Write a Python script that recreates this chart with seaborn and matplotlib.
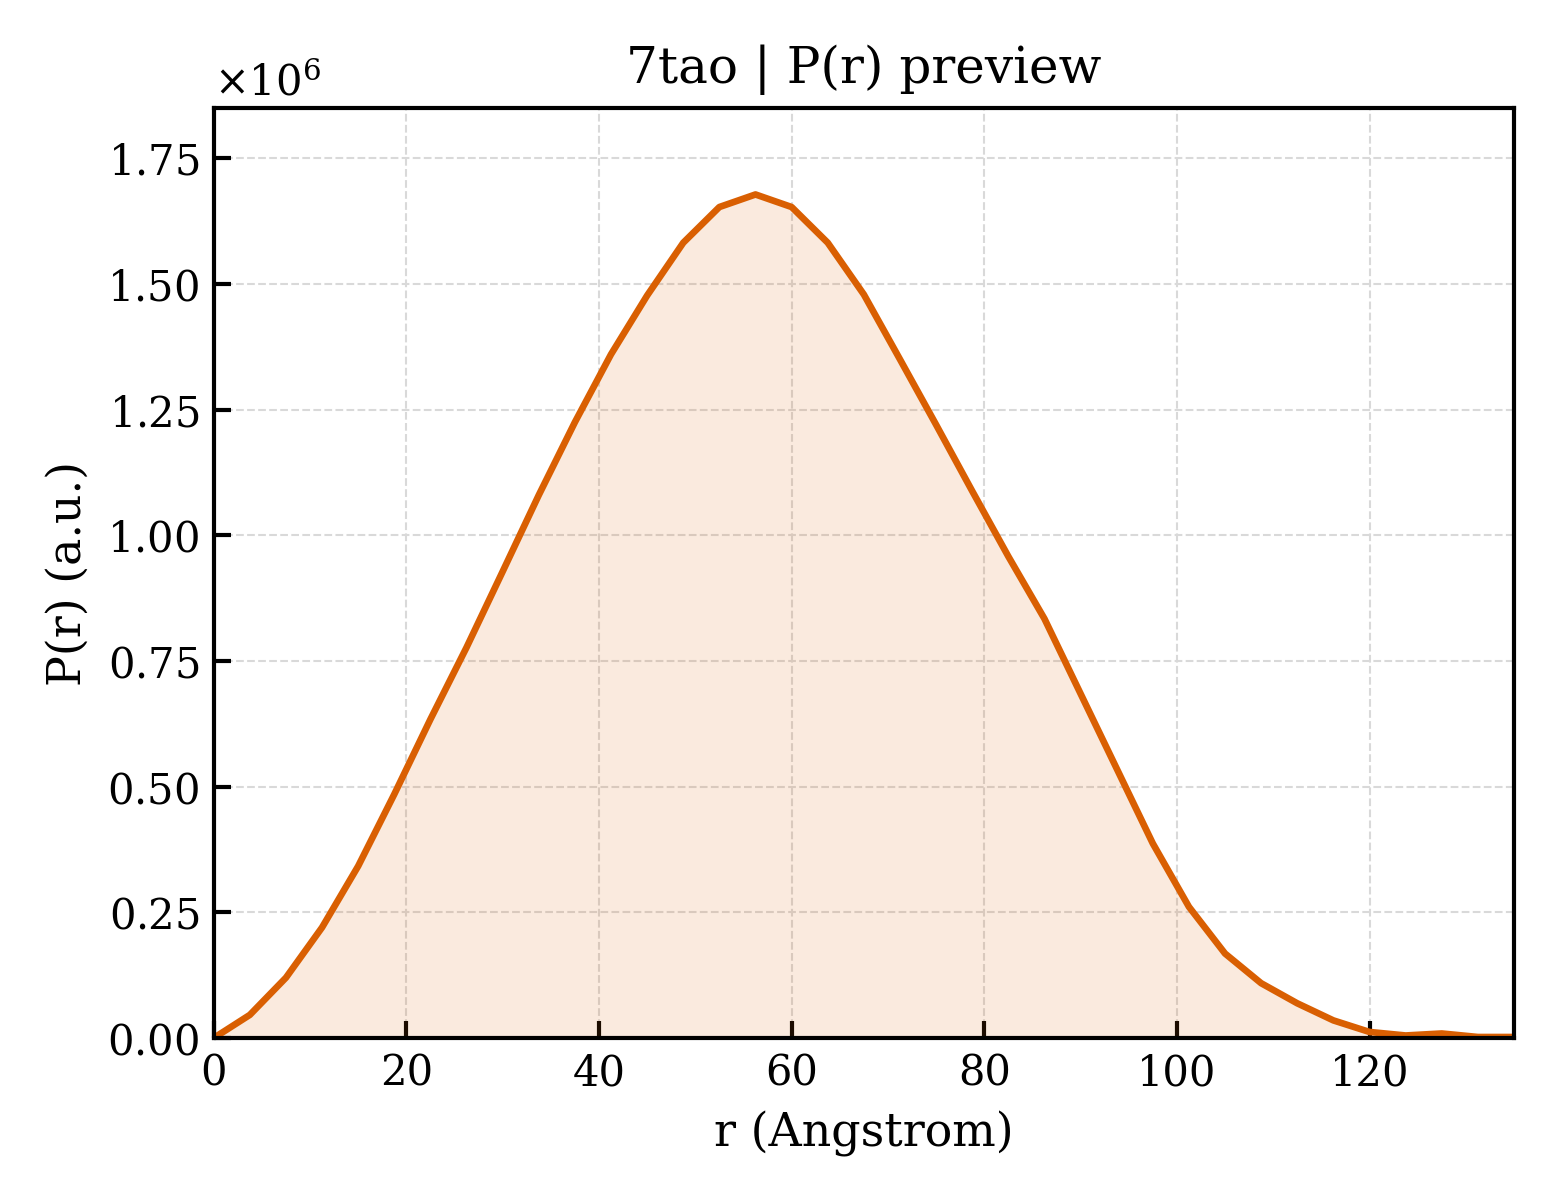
import numpy as np
import pandas as pd
import matplotlib
matplotlib.use("Agg")
import matplotlib.pyplot as plt
from matplotlib.ticker import ScalarFormatter
import seaborn as sns

r_vals = [0.0, 3.75, 7.5, 11.25, 15.0, 18.75, 22.5, 26.25, 30.0, 33.75,
          37.5, 41.25, 45.0, 48.75, 52.5, 56.25, 60.0, 63.75, 67.5, 71.25,
          75.0, 78.75, 82.5, 86.25, 90.0, 93.75, 97.5, 101.25, 105.0, 108.75,
          112.5, 116.25, 120.0, 123.75, 127.5, 131.25, 135.0]
p_vals_1e6 = [0.000, 0.046, 0.120, 0.220, 0.342, 0.485, 0.634, 0.777, 0.928, 1.080,
              1.225, 1.360, 1.477, 1.582, 1.653, 1.678, 1.653, 1.582, 1.479, 1.350,
              1.220, 1.088, 0.958, 0.834, 0.685, 0.536, 0.387, 0.261, 0.168, 0.109,
              0.069, 0.035, 0.012, 0.005, 0.009, 0.002, 0.002]

title = "7tao | P(r) preview"
x_label = "r (Angstrom)"
y_label = "P(r) (a.u.)"
line_color = "#D95F02"

sns.set_style("ticks")
plt.rcParams["font.family"] = ["DejaVu Serif"]
plt.rcParams["mathtext.fontset"] = "dejavuserif"
plt.rcParams["axes.linewidth"] = 1.0
# seaborn greys the text, the preview uses plain black
for key in ["text.color", "axes.labelcolor", "xtick.color", "ytick.color", "axes.edgecolor"]:
    plt.rcParams[key] = "black"

df = pd.DataFrame({"r": r_vals, "P": np.array(p_vals_1e6) * 1e6})

fig, ax = plt.subplots(figsize=(5.2, 4.0), dpi=300)
fig.subplots_adjust(left=0.137, right=0.9705, bottom=0.135, top=0.91)

ax.fill_between(df["r"], df["P"], 0, color=line_color, alpha=0.13, linewidth=0)
sns.lineplot(data=df, x="r", y="P", color=line_color, linewidth=1.6, ax=ax)

ax.set_xlim(0, 135)
ax.set_ylim(0, 1.85e6)
ax.set_xticks([0, 20, 40, 60, 80, 100, 120])
ax.set_yticks(np.arange(0, 1.76e6, 0.25e6))

fmt = ScalarFormatter(useMathText=True)
fmt.set_powerlimits((0, 0))
ax.yaxis.set_major_formatter(fmt)
ax.yaxis.get_offset_text().set_fontsize(10)

ax.grid(True, linestyle="--", linewidth=0.5, color="0.85")
ax.tick_params(direction="in", length=4, width=1.0, labelsize=10,
               top=False, right=False)

ax.set_title(title, fontsize=12)
ax.set_xlabel(x_label, fontsize=11)
ax.set_ylabel(y_label, fontsize=11)

fig.savefig("out.png", dpi=300)
